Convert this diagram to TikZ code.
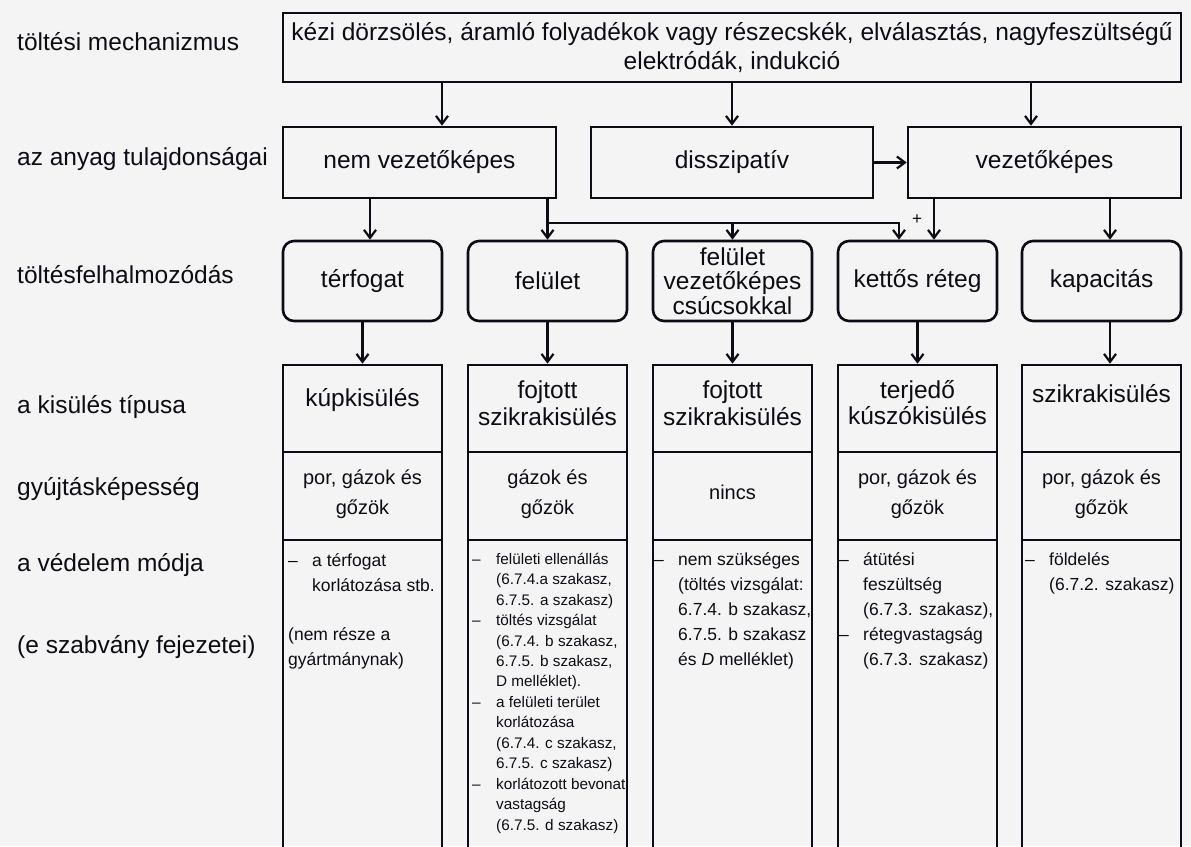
\documentclass[tikz,border=0pt]{standalone}
\usepackage{fontspec}
\setmainfont{Liberation Sans}
\usetikzlibrary{arrows.meta}
\definecolor{bgc}{RGB}{244,244,244}
\definecolor{ink}{RGB}{12,12,20}
\newcommand\fMain{\fontsize{24.5}{29}\selectfont}
\newcommand\fRowThree{\fontsize{24.5}{24.5}\selectfont}
\newcommand\fKis{\fontsize{24.5}{26.5}\selectfont}
\newcommand\fGyu{\fontsize{20}{30}\selectfont}
\newcommand\fVed{\fontsize{17.5}{25}\selectfont}
\newcommand\fVedS{\fontsize{15.3}{20.46}\selectfont}
\newcommand\fPlus{\fontsize{17}{17}\selectfont}
\newcommand\stA{\rule{0pt}{14pt}}
\newcommand\stB{\rule{0pt}{12.2pt}}
\begin{document}
\begin{tikzpicture}[x=1pt,y=-1pt,
 every node/.style={text=ink},
 box/.style={draw=ink,line width=2.6pt,inner sep=0pt,align=center,font=\fMain},
 rbox/.style={box,rounded corners=11pt,minimum width=159pt,minimum height=80pt},
 cell/.style={draw=ink,line width=2.6pt,inner sep=0pt,minimum width=159pt},
 lab/.style={anchor=base west,inner sep=0pt,font=\fMain},
 ctext/.style={inner sep=0pt,align=center},
 vtext/.style={anchor=north west,inner sep=0pt,align=left,font=\fVed},
 stext/.style={anchor=north west,inner sep=0pt,align=left,font=\fVedS},
 arr/.style={draw=ink,line width=2.2pt,-{Straight Barb[length=8pt,width=12pt]}}
]
\fill[bgc] (0,0) rectangle (1191,846);
\useasboundingbox (0,0) rectangle (1191,846);
\clip (0,0) rectangle (1191,846);

% row labels
\node[lab] (L1) at (17,50.5) {töltési mechanizmus};
\node[lab] (L2) at (17,165.5) {az anyag tulajdonságai};
\node[lab] (L3) at (17,283) {töltésfelhalmozódás};
\node[lab] (L4) at (17,413) {a kisülés típusa};
\node[lab] (L5) at (17,495) {gyújtásképesség};
\node[lab] (L6) at (17,571) {a védelem módja};
\node[lab] (L7) at (17,653) {(e szabvány fejezetei)};

% top box
\node[box,minimum width=898pt,minimum height=69pt] (top) at (732,47.5)
  {kézi dörzsölés, áramló folyadékok vagy részecskék, elválasztás, nagyfeszültségű\\elektródák, indukció};

% row 2
\node[box,minimum width=273pt,minimum height=71pt] (nv) at (419.5,162.5) {nem vezetőképes};
\node[box,minimum width=282pt,minimum height=71pt] (ds) at (732,162.5) {disszipatív};
\node[box,minimum width=273pt,minimum height=71pt] (vz) at (1044.5,162.5) {vezetőképes};

% row 3
\node[rbox] (tf) at (362.5,281) {térfogat};
\node[rbox] (fe) at (547.5,281) {felület};
\node[rbox,font=\fRowThree] (cs) at (732.5,281) {felület\\vezetőképes\\csúcsokkal};
\node[rbox] (ke) at (917.5,281) {kettős réteg};
\node[rbox] (ka) at (1101.5,281) {kapacitás};

% row 4 cells
\node[cell,minimum height=87pt] (k1) at (362.5,408.5) {};
\node[cell,minimum height=87pt] (k2) at (547.5,408.5) {};
\node[cell,minimum height=87pt] (k3) at (732.5,408.5) {};
\node[cell,minimum height=87pt] (k4) at (917.5,408.5) {};
\node[cell,minimum height=87pt] (k5) at (1101.5,408.5) {};
\node[cell,minimum height=88pt] (g1) at (362.5,496) {};
\node[cell,minimum height=88pt] (g2) at (547.5,496) {};
\node[cell,minimum height=88pt] (g3) at (732.5,496) {};
\node[cell,minimum height=88pt] (g4) at (917.5,496) {};
\node[cell,minimum height=88pt] (g5) at (1101.5,496) {};
\node[cell,minimum height=340pt] (v1) at (362.5,710) {};
\node[cell,minimum height=340pt] (v2) at (547.5,710) {};
\node[cell,minimum height=340pt] (v3) at (732.5,710) {};
\node[cell,minimum height=340pt] (v4) at (917.5,710) {};
\node[cell,minimum height=340pt] (v5) at (1101.5,710) {};

% discharge type texts
\node[ctext,font=\fKis] (k1t) at (362.5,400.5) {kúpkisülés};
\node[ctext,font=\fKis] (k2t) at (547.5,403) {fojtott\\szikrakisülés};
\node[ctext,font=\fKis] (k3t) at (732.5,403) {fojtott\\szikrakisülés};
\node[ctext,font=\fKis] (k4t) at (917.5,402.5) {terjedő\\kúszókisülés};
\node[ctext,font=\fKis] (k5t) at (1101.5,394) {szikrakisülés};

% ignition capability texts
\node[ctext,font=\fGyu] (g1t) at (362.5,494.5) {por, gázok és\\gőzök};
\node[ctext,font=\fGyu] (g2t) at (547.5,494.5) {gázok és\\gőzök};
\node[ctext,font=\fGyu] (g3t) at (732.5,492) {nincs};
\node[ctext,font=\fGyu] (g4t) at (917.5,494.5) {por, gázok és\\gőzök};
\node[ctext,font=\fGyu] (g5t) at (1101.5,494.5) {por, gázok és\\gőzök};

% protection texts
\node[vtext] (v1d) at (288,552.5) {\stA–};
\node[vtext] (v1a) at (312,552.5) {\stA a térfogat\\korlátozása stb.};
\node[vtext] (v1b) at (288,626) {\stA(nem része a\\gyártmánynak)};

\node[stext] (v2d1) at (472,551.8) {\stB–};
\node[stext] (v2d2) at (472,613.2) {\stB–};
\node[stext] (v2d3) at (472,695.0) {\stB–};
\node[stext] (v2d4) at (472,776.9) {\stB–};
\node[stext] (v2a) at (496,551.8) {\stB felületi ellenállás\\(6.7.4.a szakasz,\\6.7.5. a szakasz)\\töltés vizsgálat\\(6.7.4. b szakasz,\\6.7.5. b szakasz,\\D melléklet).\\a felületi terület\\korlátozása\\(6.7.4. c szakasz,\\6.7.5. c szakasz)\\korlátozott bevonat\\vastagság\\(6.7.5. d szakasz)};

\node[vtext] (v3d) at (654,551) {\stA–};
\node[vtext] (v3a) at (678,551) {\stA nem szükséges\\(töltés vizsgálat:\\6.7.4. b szakasz,\\6.7.5. b szakasz\\és \textit{D} melléklet)};

\node[vtext] (v4d1) at (839,551) {\stA–};
\node[vtext] (v4d2) at (839,626) {\stA–};
\node[vtext] (v4a) at (863,551) {\stA átütési\\feszültség\\(6.7.3. szakasz),\\rétegvastagság\\(6.7.3. szakasz)};

\node[vtext] (v5d) at (1025,551) {\stA–};
\node[vtext] (v5a) at (1049,551) {\stA földelés\\(6.7.2. szakasz)};

% connectors
\coordinate (xa) at (442,0);
\coordinate (xb) at (1031,0);
\coordinate (xc) at (370,0);
\coordinate (xd) at (899,0);
\coordinate (xe) at (934,0);
\coordinate (xf) at (1110,0);
\coordinate (jn) at (547.5,223);

\draw[arr] (top.south -| xa) -- (nv.north -| xa);
\draw[arr] (top.south -| ds.north) -- (ds.north);
\draw[arr] (top.south -| xb) -- (vz.north -| xb);
\draw[arr] (ds.east) -- (vz.west);
\draw[arr] (nv.south -| xc) -- (tf.north -| xc);
\draw[arr] (nv.south -| fe.north) -- (fe.north);
\draw[arr] (jn) -| (ke.north -| xd);
\draw[arr] (jn -| cs.north) -- (cs.north);
\draw[arr] (vz.south -| xe) -- (ke.north -| xe);
\draw[arr] (vz.south -| xf) -- (ka.north -| xf);
\draw[arr] (tf.south) -- (k1.north);
\draw[arr] (fe.south) -- (k2.north);
\draw[arr] (cs.south) -- (k3.north);
\draw[arr] (ke.south) -- (k4.north);
\draw[arr] (ka.south -| xf) -- (k5.north -| xf);
\node[font=\fPlus,inner sep=0pt] (plus) at (917,220) {+};
\end{tikzpicture}
\end{document}
